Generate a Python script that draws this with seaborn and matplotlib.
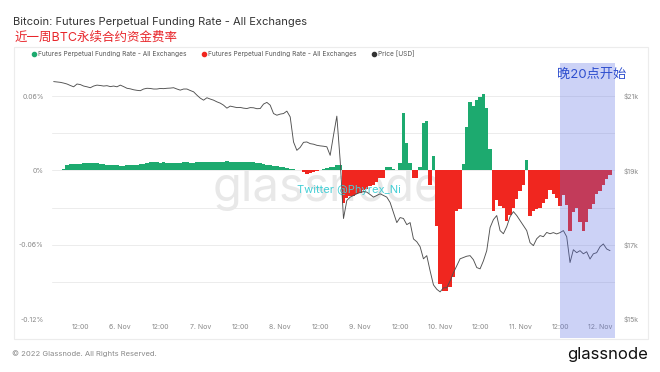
import numpy as np
import pandas as pd
import matplotlib.pyplot as plt
from matplotlib.lines import Line2D
from matplotlib.patches import Rectangle
import seaborn as sns


# ----------------------------------------------------
# Data (hourly, 5 Nov 04:00 -> 12 Nov 03:00, UTC)
# ----------------------------------------------------
START = "2022-11-05 04:00"

# funding rate in percent
funding_rate = [
    0.0005, 0.0005, 0.0006, 0.001, 0.004, 0.0055, 0.0055, 0.0055, 0.0055, 0.0058, 0.006, 0.0062, 0.006, 0.0058, 0.0055, 0.005,
    0.0045, 0.0042, 0.004, 0.004, 0.0038, 0.0038, 0.004, 0.004, 0.0042, 0.0045,
    0.005, 0.0055, 0.0062, 0.0065, 0.0068, 0.0065, 0.0062, 0.0065, 0.006, 0.0058,
    0.0062, 0.006, 0.0062, 0.0065, 0.0065, 0.0062, 0.0062, 0.0065, 0.0068, 0.007,
    0.0068, 0.0065, 0.0068, 0.007, 0.0068, 0.007, 0.0072, 0.007, 0.0068, 0.0065, 0.007, 0.0068, 0.0065, 0.0068, 0.0065, 0.006, 0.0058,
    0.0048, 0.0042, 0.004, 0.0035, 0.0032, 0.003, 0.0025, 0.002, 0.0015, 0.001, 0.0005, 0.0002,
    -0.0012, -0.003, -0.0022, -0.0015, -0.0008, 0.0005, 0.0012, 0.0018, 0.0025, 0.003, 0.0045, 0.004,
    -0.026, -0.022, -0.021, -0.021, -0.019, -0.018, -0.016, -0.015, -0.013, -0.012, -0.009, -0.006, -0.006,
    0.003, 0.003, 0.001, 0.0005, 0.006, 0.046, 0.022, 0.006, -0.006, -0.006, 0.003, 0.038, 0.040, -0.012, 0.012,
    -0.045, -0.092, -0.097, -0.097, -0.094, -0.086, -0.033, -0.031,
    0.005, 0.035, 0.055, 0.052, 0.057, 0.059, 0.062, 0.05, 0.017,
    -0.033, -0.024, -0.029, -0.030, -0.041, -0.036, -0.030, -0.023, -0.017, -0.012, 0.008,
    -0.037, -0.033, -0.031, -0.030, -0.026, -0.023, -0.016, -0.019, -0.022, -0.029,
    -0.020, -0.028, -0.049, -0.034, -0.030, -0.042, -0.049, -0.042, -0.031, -0.027, -0.019, -0.017, -0.012, -0.007, -0.004,
]

price_usd = [
    21390, 21380, 21370, 21350, 21325, 21285, 21250, 21325, 21310, 21270,
    21250, 21225, 21270, 21295, 21285, 21270, 21280, 21255, 21270, 21250,
    21295, 21255, 21210, 21195, 21170, 21155, 21145, 21190, 21210, 21205,
    21190, 21190, 21205, 21200, 21210, 21215, 21225, 21190, 21160, 21190,
    21190, 21150, 21115, 21025, 20945, 20890, 20955, 20920, 20890, 20845,
    20810, 20755, 20675, 20730, 20710, 20690, 20695, 20675, 20665, 20690,
    20685, 20660, 20665, 20785, 20830, 20755, 20530, 20485, 20515, 20530,
    20595, 20440, 19765, 19540, 19620, 19755, 19765, 19720, 19705, 19675,
    19660, 19650, 19635, 19405, 19945, 20460, 19270, 17705, 18190, 18280,
    18325, 18370, 18405, 18430, 18415, 18350, 18280, 18325, 18370, 18325,
    18280, 18135, 17865, 17595, 17730, 17705, 17540, 17595, 17155, 17080,
    16945, 16620, 16705, 16295, 15920, 15800, 15730, 15840, 15840, 16025,
    16245, 16430, 16620, 16655, 16690, 16705, 16595, 16385, 16350, 16565,
    16840, 17460, 17675, 17785, 17380, 17295, 17485, 17755, 17890, 17785,
    17650, 17515, 17380, 17055, 16975, 17160, 17245, 17215, 17330, 17295,
    17325, 17290, 17325, 17380, 17215, 16520, 16865, 16785, 16840, 16755,
    16810, 16615, 16755, 16785, 16945, 17020, 16885, 16840,
]

x_tick_labels = ["12:00", "6. Nov", "12:00", "7. Nov", "12:00", "8. Nov", "12:00",
                 "9. Nov", "12:00", "10. Nov", "12:00", "11. Nov", "12:00", "12. Nov"]
rate_ticks = [0.06, 0.0, -0.06, -0.12]
rate_tick_labels = ["0.06%", "0%", "-0.06%", "-0.12%"]
price_ticks = [15000, 17000, 19000, 21000]
price_tick_labels = ["$15k", "$17k", "$19k", "$21k"]

GREEN = "#1daa6f"
RED = "#f0261f"
LABEL = "Futures Perpetual Funding Rate - All Exchanges"


# ----------------------------------------------------
# Plot
# ----------------------------------------------------
def main():
    sns.set_theme(style="white")
    plt.rcParams["font.family"] = ["Inter", "Noto Sans CJK SC", "DejaVu Sans"]

    df = pd.DataFrame({
        "time": pd.date_range(START, periods=len(funding_rate), freq="h"),
        "rate": funding_rate,
        "price": price_usd,
    })
    colors = [GREEN if v >= 0 else RED for v in df["rate"]]

    fig = plt.figure(figsize=(6.6, 3.72), dpi=100)
    ax = fig.add_axes([52 / 660, 53 / 372, 563 / 660, 241 / 372])

    ax.bar(df["time"], df["rate"], width=1 / 24, color=colors, linewidth=0, zorder=2)

    ylo, yhi = -0.12, 0.0746
    ax.set_ylim(ylo, yhi)
    ax.set_yticks(rate_ticks)
    ax.set_yticklabels(rate_tick_labels)
    ax.set_yticks([0.03, -0.03, -0.09], minor=True)
    ax.grid(True, axis="y", which="both", color="#ececec", linewidth=0.7, zorder=0)
    ax.grid(False, axis="x")

    xticks = pd.date_range("2022-11-05 12:00", periods=len(x_tick_labels), freq="12h")
    ax.set_xticks(xticks)
    ax.set_xticklabels(x_tick_labels)
    xlim = (pd.Timestamp("2022-11-05 03:30"), pd.Timestamp("2022-11-12 04:30"))
    ax.set_xlim(*xlim)

    ax.tick_params(axis="both", which="both", length=0, labelsize=5, labelcolor="#8a8a8a")
    ax.tick_params(axis="y", pad=6)
    ax.tick_params(axis="x", pad=3.5)
    for s in ax.spines.values():
        s.set_visible(False)

    # watermarks
    ax.text(0.49, 0.54, "glassnode", transform=ax.transAxes, fontsize=34,
            color="#e8e8e8", ha="center", va="center", zorder=1)
    ax.text(0.527, 0.535, "Twitter @Phyrex_Ni", transform=ax.transAxes, fontsize=8,
            color="#45cfd6", ha="center", va="center", zorder=5)

    # price on twin axis
    ax2 = ax.twinx()
    sns.lineplot(data=df, x="time", y="price", ax=ax2, color="#505050", linewidth=0.65)
    ax2.set_ylim(19000 + ylo / 0.06 * 2000, 19000 + yhi / 0.06 * 2000)
    ax2.set_yticks(price_ticks)
    ax2.set_yticklabels(price_tick_labels)
    ax2.set_xlim(*xlim)
    ax2.set_xlabel("")
    ax2.set_ylabel("")
    ax2.grid(False)
    ax2.tick_params(axis="y", which="both", length=0, labelsize=5,
                    labelcolor="#8a8a8a", pad=6)
    for s in ax2.spines.values():
        s.set_visible(False)

    # highlight from 20:00 Beijing time
    ax2.axvspan(pd.Timestamp("2022-11-11 12:00"), xlim[1], ymin=-0.079, ymax=1.062,
                color=(88 / 255, 108 / 255, 228 / 255), alpha=0.3, linewidth=0,
                zorder=10, clip_on=False)
    fig.text(557 / 660, 1 - 75 / 372, "晚20点开始", fontsize=9.5, color="#2f4fcf",
             va="center", ha="left")

    # titles
    fig.text(13 / 660, 1 - 22 / 372, "Bitcoin: Futures Perpetual Funding Rate - All Exchanges",
             fontsize=8, color="#333333", va="center", ha="left")
    fig.text(15 / 660, 1 - 38 / 372, "近一周BTC永续合约资金费率",
             fontsize=9, color="#e8262b", va="center", ha="left")

    handles = [
        Line2D([], [], marker="o", linestyle="", color=GREEN, markersize=3),
        Line2D([], [], marker="o", linestyle="", color=RED, markersize=3),
        Line2D([], [], marker="o", linestyle="", color="#333333", markersize=3),
    ]
    fig.legend(handles, [LABEL, LABEL, "Price [USD]"], loc="center left",
               bbox_to_anchor=(26 / 660, 1 - 54 / 372), ncol=3, frameon=False,
               fontsize=4.7, handlelength=0.6, handletextpad=0.4,
               columnspacing=2.3, labelcolor="#555555")

    # frame + footer
    fig.patches.append(Rectangle((14 / 660, 33 / 372), 634 / 660, 292 / 372,
                                 transform=fig.transFigure, fill=False,
                                 edgecolor="#ececec", linewidth=0.8))
    fig.text(12 / 660, 1 - 354 / 372, "© 2022 Glassnode. All Rights Reserved.",
             fontsize=5.5, color="#8a8a8a", va="center", ha="left")
    fig.text(648 / 660, 1 - 355 / 372, "glassnode", fontsize=12, color="#111111",
             va="center", ha="right")

    fig.savefig("out.png", dpi=100)
    plt.close(fig)


if __name__ == "__main__":
    main()
